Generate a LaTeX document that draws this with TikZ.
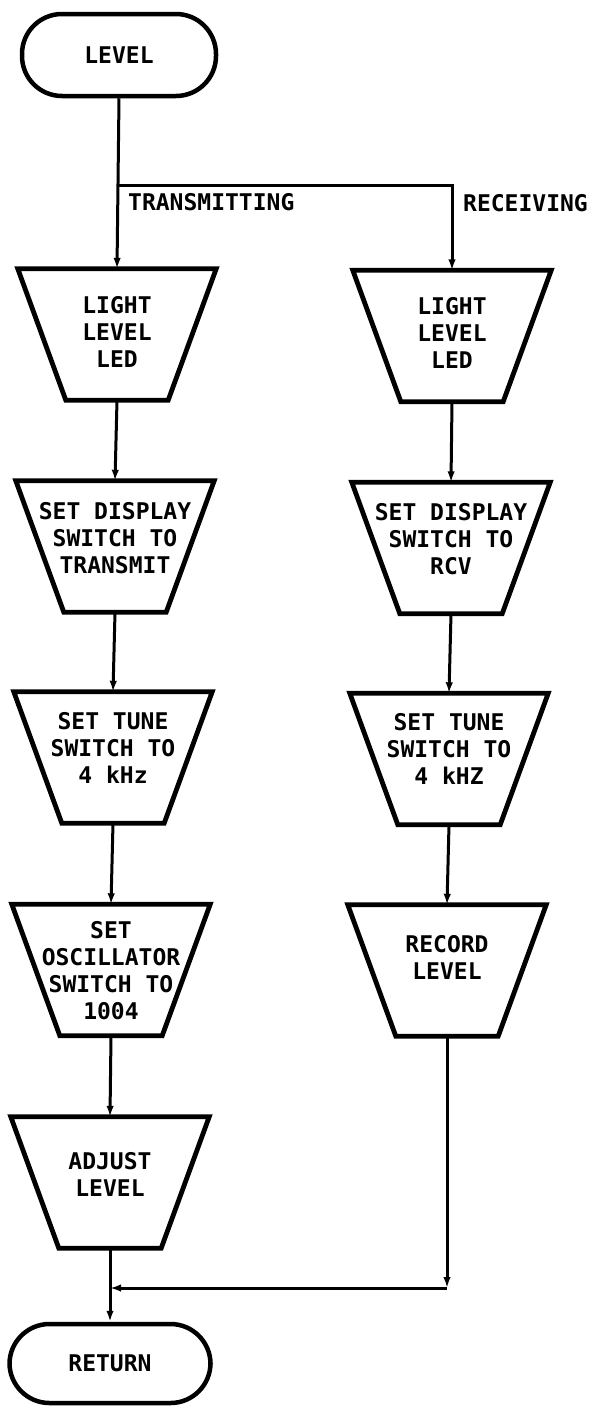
\documentclass[tikz,border=0pt]{standalone}
\usepackage{fontspec}
\setmonofont{DejaVu Sans Mono}
\usetikzlibrary{arrows.meta}

% trapezoidal "manual operation" outline around a step node
\newcommand\trapz[1]{%
  \draw[trapline] (#1.north west) -- (#1.north east)
    -- ([xshift=-48pt]#1.south east) -- ([xshift=48pt]#1.south west) -- cycle;}

\begin{document}
\begin{tikzpicture}[x=1pt,y=1pt,
  txt/.style={font=\ttfamily\bfseries\fontsize{23}{27}\selectfont, inner sep=0pt},
  term/.style={txt, draw, line width=4.5pt, rounded corners=40pt,
    minimum width=194pt, minimum height=82pt},
  stepbox/.style={txt, rectangle, minimum width=198pt, minimum height=131pt,
    align=center, text depth=16pt},
  trapline/.style={line width=4.8pt, line join=miter},
  arr/.style={line width=3pt, -{Latex[length=11pt,width=7.5pt]}},
  wire/.style={line width=3pt}]

\useasboundingbox (0,0) rectangle (593,-1408);

% start / end
\node[term] (lev) at (119,-55) {LEVEL};
\node[term, minimum width=201pt, minimum height=79pt] (ret) at (110,-1363.5) {RETURN};

% transmitting branch
\node[stepbox, text depth=6pt] (l1) at (117,-334.5) {LIGHT\\LEVEL\\LED};
\node[stepbox, text depth=18pt] (l2) at (115,-546.5) {SET DISPLAY\\SWITCH TO\\TRANSMIT};
\node[stepbox, text depth=20pt] (l3) at (113,-757.5) {SET TUNE\\SWITCH TO\\4 kHz};
\node[stepbox, text depth=0pt] (l4) at (111,-970) {SET\\OSCILLATOR\\SWITCH TO\\1004};
\node[stepbox] (l5) at (110,-1182.5) {ADJUST\\LEVEL};

% receiving branch
\node[stepbox, text depth=6pt] (r1) at (452,-336) {LIGHT\\LEVEL\\LED};
\node[stepbox, text depth=18pt] (r2) at (451,-548) {SET DISPLAY\\SWITCH TO\\RCV};
\node[stepbox, text depth=20pt] (r3) at (449,-759) {SET TUNE\\SWITCH TO\\4 kHZ};
\node[stepbox, text depth=26pt] (r4) at (447,-970.5) {RECORD\\LEVEL};

\foreach \n in {l1,l2,l3,l4,l5,r1,r2,r3,r4} {\trapz{\n}}

% branch labels
\node[txt, anchor=west] (tx) at (128,-202) {TRANSMITTING};
\node[txt, anchor=west] (rx) at (463,-203) {RECEIVING};

% flow lines
\coordinate (br) at (117,-185);
\draw[arr] (lev.south) -- (l1.north);
\draw[arr] (br) -| (r1.north);
\draw[arr] (l1.south) -- (l2.north);
\draw[arr] (l2.south) -- (l3.north);
\draw[arr] (l3.south) -- (l4.north);
\draw[arr] (l4.south) -- (l5.north);
\draw[arr] (l5.south) -- (ret.north);
\draw[arr] (r1.south) -- (r2.north);
\draw[arr] (r2.south) -- (r3.north);
\draw[arr] (r3.south) -- (r4.north);

\coordinate (jy) at (0,-1288);
\coordinate (jn) at (l5.south |- jy);
\coordinate (cr) at (r4.south |- jy);
\draw[arr] (r4.south) -- (cr);
\draw[arr] (cr) -- (jn);
\end{tikzpicture}
\end{document}
